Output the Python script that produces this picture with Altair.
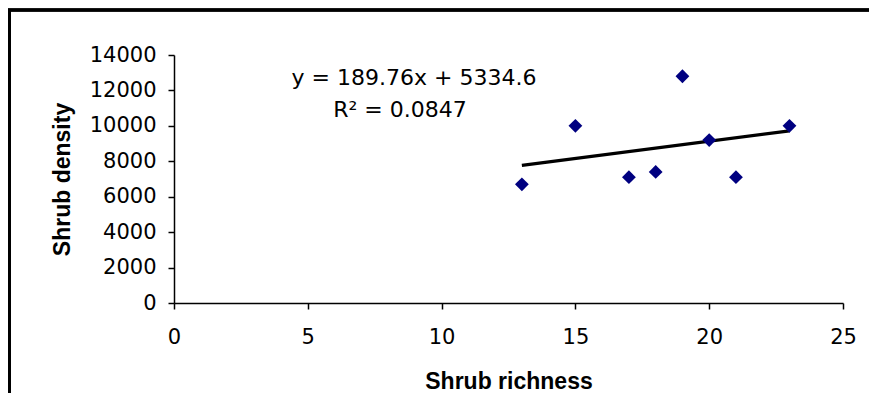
import altair as alt
import pandas as pd

richness = [13, 15, 17, 18, 19, 20, 21, 23]
density = [6700, 10000, 7100, 7400, 12800, 9200, 7100, 10000]
x_ticks = [0, 5, 10, 15, 20, 25]
y_ticks = [0, 2000, 4000, 6000, 8000, 10000, 12000, 14000]
eq_lines = ["y = 189.76x + 5334.6", "R\u00b2 = 0.0847"]

df = pd.DataFrame({"x": richness, "y": density})
LFONT = "DejaVu Sans"
TFONT = "Liberation Sans"

xs = alt.X("x:Q", scale=alt.Scale(domain=[0, 25], nice=False, zero=True),
           axis=alt.Axis(values=x_ticks, title="Shrub richness", grid=False,
                         format="d",
                         tickSize=6, tickColor="black", domainColor="black",
                         domainWidth=1.5, tickWidth=1.5,
                         labelFont=LFONT, labelFontSize=21, labelColor="black",
                         labelPadding=17, titleFont=TFONT, titleFontSize=23,
                         titleFontWeight="bold", titleColor="black",
                         titlePadding=23, labelFlush=False))
ys = alt.Y("y:Q", scale=alt.Scale(domain=[0, 14000], nice=False),
           axis=alt.Axis(values=y_ticks, title="Shrub density", grid=False,
                         format="d",
                         tickSize=6, tickColor="black", domainColor="black",
                         domainWidth=1.5, tickWidth=1.5,
                         labelFont=LFONT, labelFontSize=21, labelColor="black",
                         labelPadding=12, titleFont=TFONT, titleFontSize=23,
                         titleFontWeight="bold", titleColor="black",
                         titlePadding=15, labelFlush=False))

base = alt.Chart(df)

points = base.mark_point(shape="diamond", filled=True, color="#000080",
                         size=190, opacity=1).encode(x=xs, y=ys)

trend = base.transform_regression("x", "y").mark_line(
    color="black", strokeWidth=3.2).encode(x=xs, y=ys)

eq_df = pd.DataFrame({"t": eq_lines, "px": [240, 226], "py": [23, 55]})
eq = alt.Chart(eq_df).mark_text(font=LFONT, fontSize=22, color="black",
                                align="center", baseline="middle").encode(
    text="t:N", x=alt.X("px:Q", scale=None), y=alt.Y("py:Q", scale=None))

frame_top = alt.Chart(df).mark_rule(color="black", strokeWidth=2.5).encode(
    x=alt.value(-166), x2=alt.value(720), y=alt.value(-45))
frame_left = alt.Chart(df).mark_rule(color="black", strokeWidth=2.5).encode(
    x=alt.value(-164.5), y=alt.value(-46), y2=alt.value(400))

chart = alt.layer(frame_top, frame_left, trend, points, eq).properties(
    width=669, height=248,
    autosize=alt.AutoSizeParams(type="none"),
    padding={"left": 166, "top": 47, "right": 26, "bottom": 90},
    background="white",
).configure_view(stroke=None)

chart.save("out.html", embed_options={"renderer": "svg", "actions": False})
